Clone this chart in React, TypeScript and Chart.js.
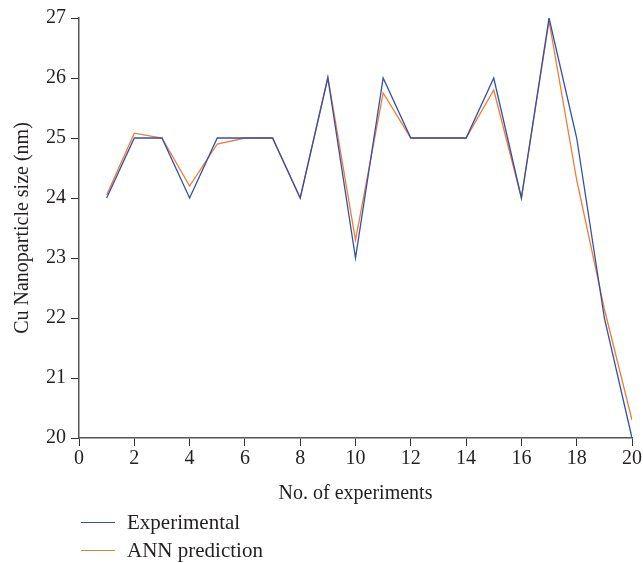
import React, { useEffect, useRef } from "react";
import { Chart, registerables } from "chart.js";

Chart.register(...registerables);

const experimentNo = [1, 2, 3, 4, 5, 6, 7, 8, 9, 10, 11, 12, 13, 14, 15, 16, 17, 18, 19, 20];
const experimental = [24, 25, 25, 24, 25, 25, 25, 24, 26, 23, 26, 25, 25, 25, 26, 24, 27, 25, 22, 20];
const annPrediction = [24.05, 25.08, 25.0, 24.2, 24.9, 25.0, 25.0, 24.0, 26.02, 23.3, 25.75, 25.0, 25.0, 25.0, 25.8, 24.0, 26.95, 24.3, 22.15, 20.3];

const BLUE = "#3350a8";
const ORANGE = "#ec7d35";
const FONT = "'Liberation Serif', 'DejaVu Serif', serif";
const TEXT = "#231f20";

export default function App() {
  const ref = useRef<HTMLCanvasElement | null>(null);
  useEffect(() => {
    if (!ref.current) return;
    const chart = new Chart(ref.current, {
      type: "line",
      data: {
        datasets: [
          {
            label: "Experimental",
            data: experimentNo.map((x, i) => ({ x, y: experimental[i] })),
            borderColor: BLUE,
            backgroundColor: BLUE,
            borderWidth: 1.3,
            pointRadius: 0,
            tension: 0,
          },
          {
            label: "ANN prediction",
            data: experimentNo.map((x, i) => ({ x, y: annPrediction[i] })),
            borderColor: ORANGE,
            backgroundColor: ORANGE,
            borderWidth: 1.3,
            pointRadius: 0,
            tension: 0,
          },
        ],
      },
      options: {
        animation: false,
        responsive: false,
        layout: { padding: { top: 18, right: 4, bottom: 57, left: 11 } },
        plugins: { legend: { display: false }, tooltip: { enabled: false } },
        scales: {
          x: {
            type: "linear",
            min: 0,
            max: 20,
            ticks: { stepSize: 2, color: TEXT, font: { family: FONT, size: 20 }, padding: 1, maxRotation: 0 },
            grid: { display: true, drawOnChartArea: false, tickLength: 8, color: "#333" },
            border: { display: true, color: "#555", width: 1.5 },
            title: { display: true, text: "No. of experiments", color: TEXT, font: { family: FONT, size: 20 }, padding: { top: 10, bottom: 0 } },
          },
          y: {
            min: 20,
            max: 27,
            ticks: { stepSize: 1, color: TEXT, font: { family: FONT, size: 20 }, padding: 5 },
            grid: { display: true, drawOnChartArea: false, tickLength: 8, color: "#333" },
            border: { display: true, color: "#555", width: 1.5 },
            title: { display: true, text: "Cu Nanoparticle size (nm)", color: TEXT, font: { family: FONT, size: 20 }, padding: { top: 0, bottom: 6 } },
          },
        },
      },
    });
    return () => chart.destroy();
  }, []);

  const legendItem = (color: string, text: string, top: number) => (
    <div style={{ position: "absolute", left: 81, top, display: "flex", alignItems: "center", fontFamily: FONT, fontSize: 21, color: TEXT, lineHeight: "26px" }}>
      <div style={{ width: 34, height: 0, borderTop: `1.5px solid ${color}`, marginRight: 12 }} />
      <span>{text}</span>
    </div>
  );

  return (
    <div style={{ position: "fixed", left: 0, top: 0, width: 643, height: 563, background: "#fff" }}>
      <canvas ref={ref} width={643} height={563} style={{ position: "absolute", left: 0, top: 0 }} />
      {legendItem(BLUE, "Experimental", 509)}
      {legendItem(ORANGE, "ANN prediction", 537)}
    </div>
  );
}
